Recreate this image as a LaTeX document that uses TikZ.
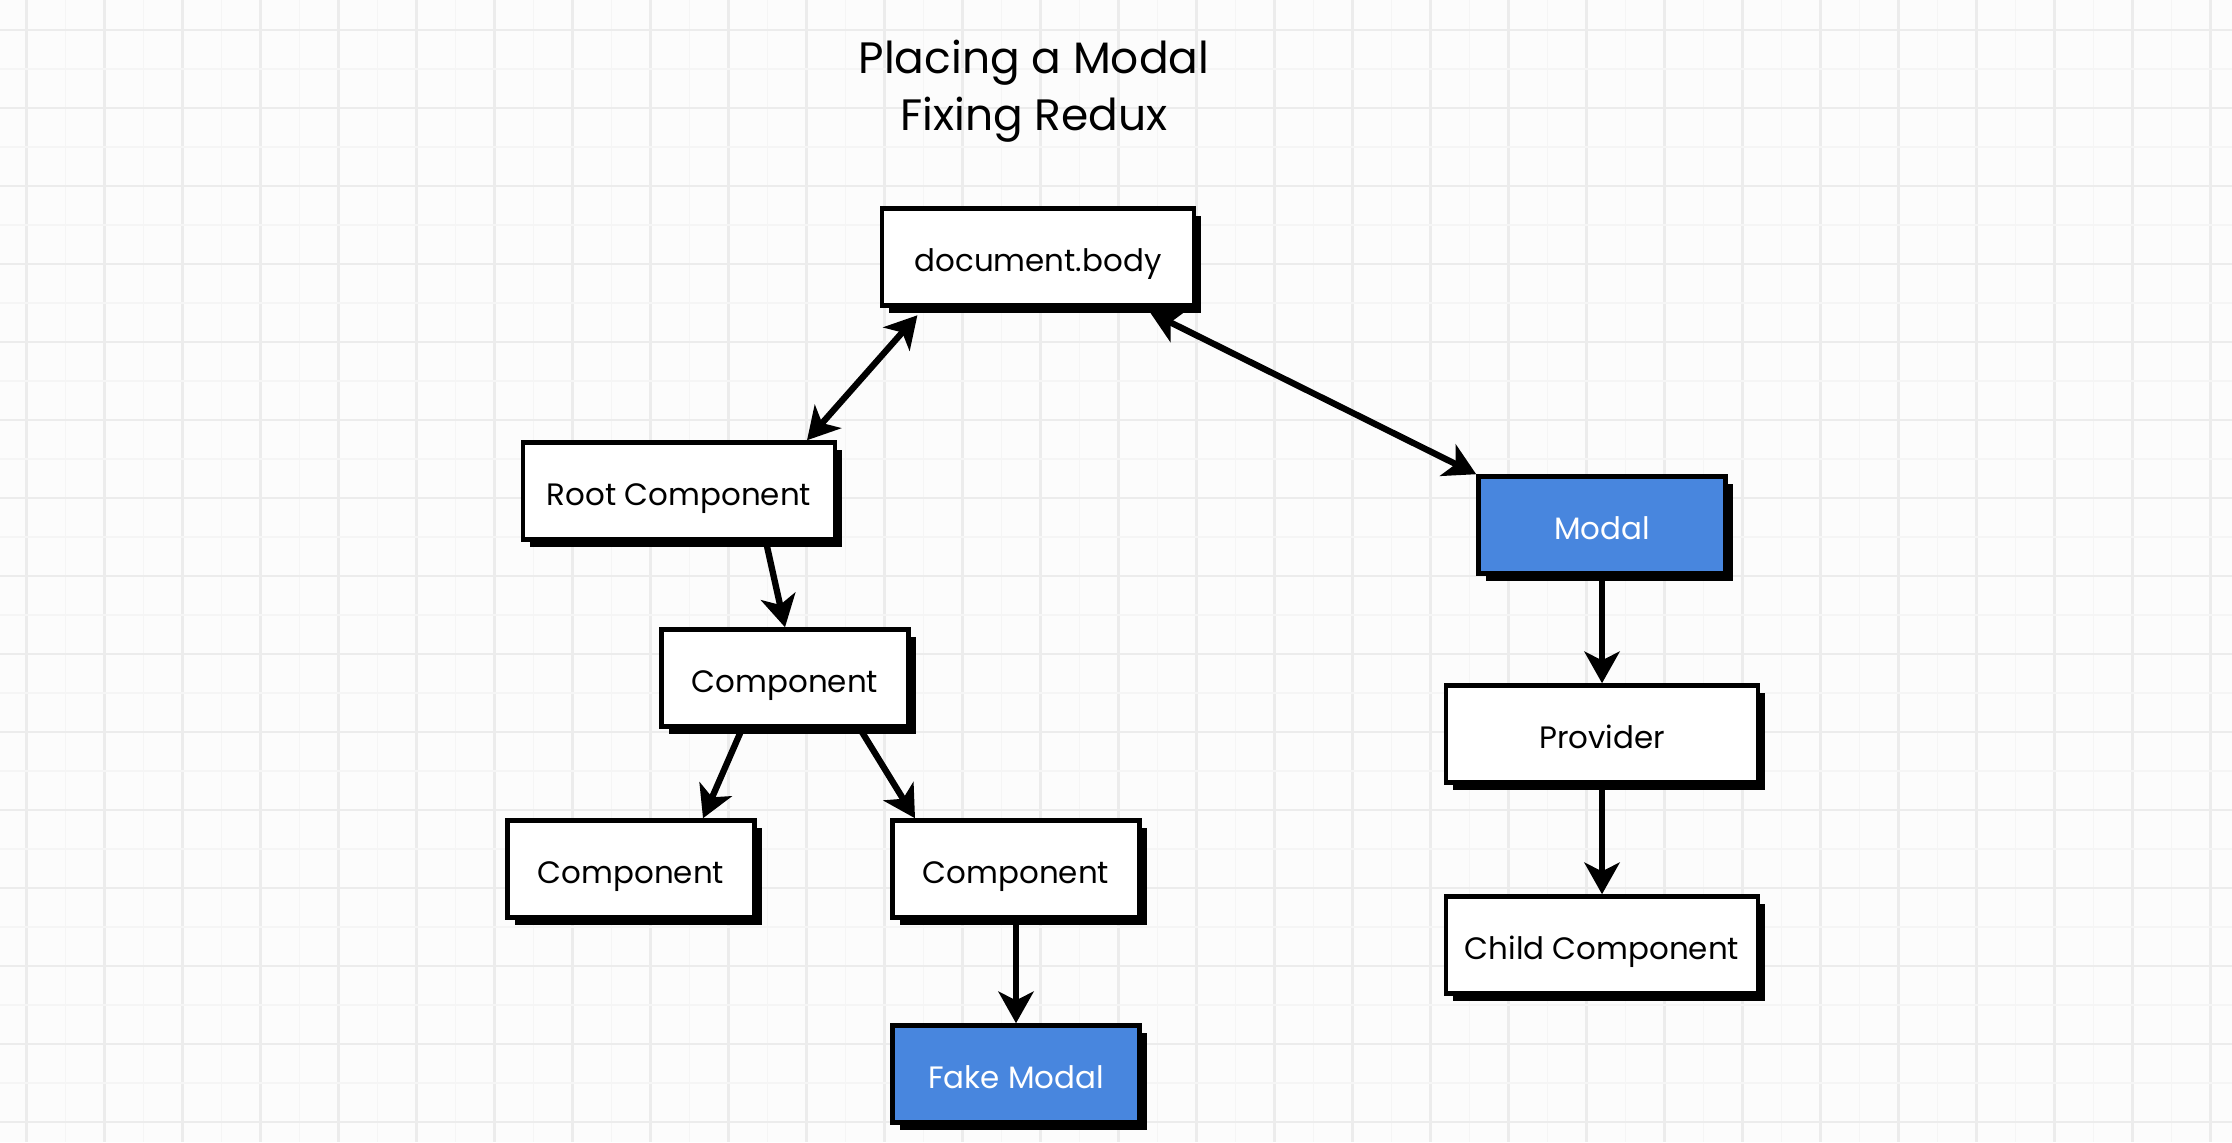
\documentclass[tikz,border=0pt]{standalone}
\usepackage{fontspec}
\setmainfont{Poppins}
\usetikzlibrary{positioning,arrows.meta,shadows}
\definecolor{modalblue}{RGB}{72,134,222}
\definecolor{gridmajor}{RGB}{236,236,236}
\definecolor{gridminor}{RGB}{245,245,245}
\definecolor{paper}{RGB}{252,252,252}

\begin{document}
\begin{tikzpicture}[node distance=2cm,on grid,>={Stealth[length=9pt,width=10pt,inset=2.5pt]},
  box/.style={draw,line width=1.3pt,fill=white,minimum height=0.97cm,minimum width=2.47cm,
    font=\fontsize{8.8}{10.5}\selectfont,text height=8.4pt,text depth=0pt,
    drop shadow={shadow xshift=0.07cm,shadow yshift=-0.07cm,fill=black,opacity=1}},
  wide/.style={minimum width=3.12cm},
  modalbox/.style={box,fill=modalblue,text=white},
  heading/.style={font=\fontsize{12.5}{15}\selectfont},
  arr/.style={line width=1.8pt}]
  \useasboundingbox (0,0) rectangle (22.32,-11.42);
  % grid paper
  \fill[paper] (0,0) rectangle (22.32,-11.42);
  \foreach \k in {0,...,28} {
    \draw[gridminor,line width=0.4pt] (0.657+0.78*\k,0) -- ++(0,-11.42);
    \draw[gridmajor,line width=0.8pt] (0.267+0.78*\k,0) -- ++(0,-11.42);
  }
  \foreach \k in {0,...,14} {
    \draw[gridminor,line width=0.4pt] (0,-0.69-0.78*\k) -- ++(22.32,0);
    \draw[gridmajor,line width=0.8pt] (0,-0.30-0.78*\k) -- ++(22.32,0);
  }

  \path
  node[heading] (title) at (10.34,-0.63) {Placing a Modal}
  node[heading] (subtitle) [below=0.57cm of title] {Fixing Redux}

  node[box,wide] (body) at (10.38,-2.57) {document.body}
  node[box,wide] (root) [below left=2.34cm and 3.59cm of body] {Root Component}
  node[box] (comp) [below right=1.87cm and 1.06cm of root] {Component}
  node[box] (compL) [below left=1.91cm and 1.54cm of comp] {Component}
  node[box] (compR) [below right=1.91cm and 2.31cm of comp] {Component}
  node[modalbox] (fake) [below=2.05cm of compR] {Fake Modal}

  node[modalbox] (modal) [below right=2.68cm and 5.64cm of body] {Modal}
  node[box,wide] (provider) [below=2.09cm of modal] {Provider}
  node[box,wide] (child) [below=2.11cm of provider] {Child Component}
  ;

  \path[arr]
  ([xshift=-1.14cm]body.south) edge[<->,shorten <=0.1cm] ([xshift=1.28cm]root.north)
  ([xshift=1.03cm]body.south) edge[<->,shorten <=0.1cm] (modal.north west)

  ([xshift=0.87cm]root.south) edge[->] (comp.north)
  ([xshift=-0.43cm]comp.south) edge[->] ([xshift=0.72cm]compL.north)
  ([xshift=0.75cm]comp.south) edge[->] ([xshift=-1.01cm]compR.north)
  (compR.south) edge[->] (fake.north)

  (modal.south) edge[->] (provider.north)
  (provider.south) edge[->] (child.north)
  ;
\end{tikzpicture}
\end{document}
